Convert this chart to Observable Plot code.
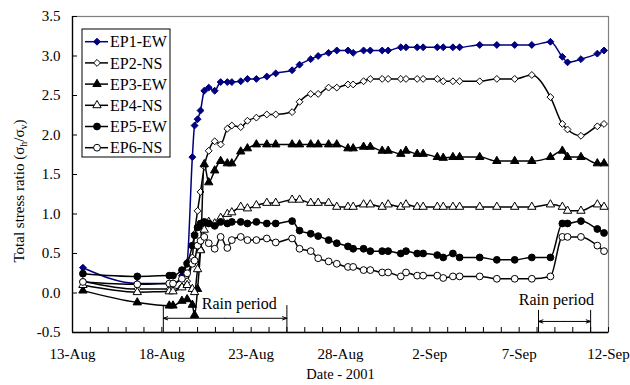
<!DOCTYPE html>
<html><head><meta charset="utf-8">
<script src="https://cdn.jsdelivr.net/npm/d3@7"></script>
<script src="https://cdn.jsdelivr.net/npm/@observablehq/plot@0.6"></script>
<style>body{margin:0;background:#fff;}</style>
</head><body><div id="chart"></div>
<script>
// Measurement times (UTC)
const dates = ["2001-08-13T14:00Z","2001-08-16T15:00Z","2001-08-18T10:00Z","2001-08-18T15:00Z","2001-08-19T03:00Z","2001-08-19T10:00Z","2001-08-19T17:00Z","2001-08-19T20:00Z","2001-08-20T00:00Z","2001-08-20T04:00Z",
"2001-08-20T09:00Z","2001-08-20T15:00Z","2001-08-20T23:00Z","2001-08-21T07:00Z","2001-08-21T16:00Z","2001-08-21T22:00Z","2001-08-22T10:00Z","2001-08-22T19:00Z","2001-08-23T07:00Z","2001-08-23T21:00Z",
"2001-08-24T09:00Z","2001-08-25T07:00Z","2001-08-25T17:00Z","2001-08-26T08:00Z","2001-08-26T18:00Z","2001-08-27T08:00Z","2001-08-27T19:00Z","2001-08-28T10:00Z","2001-08-28T17:00Z","2001-08-29T07:00Z",
"2001-08-29T16:00Z","2001-08-30T08:00Z","2001-08-30T16:00Z","2001-08-31T09:00Z","2001-08-31T16:00Z","2001-09-01T07:00Z","2001-09-01T15:00Z","2001-09-02T10:00Z","2001-09-02T18:00Z","2001-09-03T07:00Z",
"2001-09-03T16:00Z","2001-09-04T19:00Z","2001-09-05T18:00Z","2001-09-06T18:00Z","2001-09-07T17:00Z","2001-09-08T18:00Z","2001-09-09T10:00Z","2001-09-09T17:00Z","2001-09-10T11:00Z","2001-09-11T09:00Z","2001-09-11T18:00Z"];

const ep1 = [0.32,0.12,0.12,0.12,0.22,0.39,1.72,2.12,2.20,2.31, 2.56,2.60,2.56,2.67,2.67,2.67,2.68,2.71,2.71,2.74, 2.78,2.82,2.89,2.96,3.00,3.04,3.07,3.07,3.04,3.07, 3.07,3.07,3.07,3.11,3.11,3.11,3.11,3.11,3.11,3.11, 3.11,3.14,3.14,3.14,3.14,3.18,2.99,2.92,2.96,3.03,3.07];
const ep2 = [0.15,0.05,0.05,0.05,0.08,0.15,0.45,0.75,1.04,1.28, 1.60,1.80,1.92,1.88,2.08,2.12,2.10,2.18,2.22,2.26, 2.26,2.29,2.42,2.52,2.52,2.60,2.60,2.64,2.64,2.68, 2.71,2.71,2.71,2.71,2.71,2.71,2.71,2.71,2.68,2.68, 2.68,2.68,2.71,2.71,2.76,2.48,2.14,2.07,1.99,2.11,2.14];
const ep3 = [0.03,-0.12,-0.16,-0.16,-0.10,-0.08,-0.15,-0.28,0.05,0.55, 1.63,1.40,1.55,1.67,1.64,1.64,1.79,1.83,1.88,1.88, 1.88,1.88,1.88,1.88,1.88,1.88,1.88,1.83,1.83,1.85, 1.85,1.80,1.80,1.76,1.80,1.76,1.76,1.72,1.71,1.72, 1.72,1.72,1.67,1.67,1.67,1.72,1.80,1.72,1.72,1.64,1.64];
const ep4 = [0.10,0.01,0.02,0.02,0.07,0.10,0.05,0.01,0.30,0.54, 0.80,0.90,0.88,0.95,1.00,1.02,1.09,1.07,1.11,1.14, 1.14,1.18,1.18,1.14,1.14,1.14,1.09,1.09,1.09,1.12, 1.12,1.09,1.12,1.09,1.12,1.09,1.09,1.09,1.09,1.09, 1.09,1.09,1.09,1.09,1.09,1.12,1.09,1.04,1.04,1.12,1.09];
const ep5 = [0.245,0.21,0.22,0.22,0.29,0.37,0.60,0.73,0.83,0.88, 0.90,0.88,0.85,0.90,0.88,0.90,0.90,0.88,0.90,0.88, 0.88,0.91,0.79,0.75,0.72,0.67,0.63,0.59,0.56,0.56, 0.53,0.53,0.53,0.50,0.53,0.50,0.50,0.48,0.45,0.50, 0.45,0.45,0.42,0.42,0.45,0.45,0.88,0.88,0.91,0.81,0.76];
const ep6 = [0.14,0.11,0.12,0.12,0.18,0.25,0.37,0.41,0.60,0.66, 0.71,0.63,0.56,0.71,0.57,0.67,0.71,0.67,0.67,0.69, 0.64,0.69,0.56,0.53,0.44,0.40,0.37,0.33,0.33,0.29, 0.29,0.26,0.26,0.21,0.26,0.22,0.22,0.22,0.19,0.21, 0.21,0.21,0.18,0.18,0.18,0.21,0.71,0.71,0.71,0.60,0.53];

const seriesNames = ["EP1-EW","EP2-NS","EP3-EW","EP4-NS","EP5-EW","EP6-NS"];
const seriesValues = [ep1, ep2, ep3, ep4, ep5, ep6];

const tickDates = ["2001-08-13T00:00Z","2001-08-18T00:00Z","2001-08-23T00:00Z","2001-08-28T00:00Z","2001-09-02T00:00Z","2001-09-07T00:00Z","2001-09-12T00:00Z"];
const tickLabels = ["13-Aug","18-Aug","23-Aug","28-Aug","2-Sep","7-Sep","12-Sep"];
const yTicks = [-0.5,0,0.5,1,1.5,2,2.5,3,3.5];

// Rain period annotations
const rainStart = ["2001-08-18T02:00Z","2001-09-08T02:00Z"];
const rainEnd   = ["2001-08-25T00:00Z","2001-09-11T00:00Z"];
const rainBarTop = [-0.16,-0.22];
const rainArrowY = [-0.32,-0.36];
const rainLabelAt = ["2001-08-22T08:00Z","2001-09-09T02:00Z"];
const rainLabelY = [-0.135,-0.082];
const rainText = "Rain period";

// ---- styles ----
const symbols = ["diamond2","diamond2","triangle","triangle","circle","circle"];
const d3symbols = [d3.symbolDiamond2,d3.symbolDiamond2,d3.symbolTriangle,d3.symbolTriangle,d3.symbolCircle,d3.symbolCircle];
const radii = [3.1,3.1,3.1,3.1,3.4,3.4];
const fills = ["#000080","white","black","white","black","white"];
const strokes = ["#000080","black","black","black","black","black"];
const FONT = "Liberation Serif, Times New Roman, serif";

const P = s => new Date(s);
const xDomain = [P(tickDates[0]), P(tickDates[tickDates.length-1])];
const dailyTicks = d3.utcDay.range(xDomain[0], d3.utcDay.offset(xDomain[1], 1));
const labelMap = new Map(tickDates.map((d,i)=>[+P(d), tickLabels[i]]));

const marks = [
  Plot.frame({stroke: "#808080", strokeWidth: 1.2}),
];

seriesNames.forEach((name, i) => {
  const rows = dates.map((d, j) => ({date: P(d), value: seriesValues[i][j]}));
  marks.push(Plot.line(rows, {x: "date", y: "value", stroke: strokes[i], strokeWidth: 1.5, curve: "monotone-x"}));
  marks.push(Plot.dot(rows, {x: "date", y: "value", symbol: symbols[i], r: radii[i], fill: fills[i], stroke: strokes[i], strokeWidth: 1}));
});

const rainBars = [];
rainStart.forEach((s,i)=>{ rainBars.push({x: P(s), top: rainBarTop[i]}); rainBars.push({x: P(rainEnd[i]), top: rainBarTop[i]}); });
const rainArrows = [];
rainStart.forEach((s,i)=>{
  const a = P(s), b = P(rainEnd[i]); const m = new Date((+a + +b)/2);
  rainArrows.push({x1: m, x2: a, y: rainArrowY[i]});
  rainArrows.push({x1: m, x2: b, y: rainArrowY[i]});
});
const rainLabels = rainLabelAt.map((d,i)=>({x: P(d), y: rainLabelY[i]}));

marks.push(
  Plot.ruleX(rainBars, {x: "x", y1: "top", y2: yTicks[0], stroke: "black", strokeWidth: 1}),
  Plot.arrow(rainArrows, {x1: "x1", x2: "x2", y1: "y", y2: "y", stroke: "black", strokeWidth: 1, headLength: 7, headAngle: 40}),
  Plot.text(rainLabels, {x: "x", y: "y", text: () => rainText, fontSize: 16, fill: "black"}),
  // axes lines
  Plot.ruleX([xDomain[0]], {stroke: "black", strokeWidth: 1.3}),
  Plot.ruleY([yTicks[0]], {stroke: "black", strokeWidth: 1.3}),
  // x ticks (inside) and labels
  Plot.axisX(dailyTicks, {tickSize: 5, dy: -5, fill: "none", label: null, stroke: "black"}),
  Plot.axisX(tickDates.map(P), {tickSize: 0, tickPadding: 16, tickFormat: d => labelMap.get(+d), label: null, fontSize: 15, fill: "black"}),
  // y ticks (inside) and labels
  Plot.axisY(yTicks, {tickSize: 5, dx: 5, fill: "none", label: null, stroke: "black"}),
  Plot.axisY(yTicks, {tickSize: 0, tickPadding: 12, tickFormat: d => d.toFixed(1), label: null, fontSize: 15, fill: "black"}),
  Plot.text(["Date - 2001"], {frameAnchor: "bottom", dy: 46, text: d => d, fontSize: 14.5, fill: "black"})
);

const chart = Plot.plot({
  width: 630, height: 385,
  marginLeft: 72, marginRight: 22, marginTop: 16, marginBottom: 53,
  style: {fontFamily: FONT, fontSize: "15px", background: "white", color: "black"},
  x: {type: "utc", domain: xDomain, label: null},
  y: {domain: [yTicks[0], yTicks[yTicks.length-1]], label: null},
  marks
});
document.getElementById("chart").appendChild(chart);

// Legend and y-axis title
const svg = d3.select(chart);
const lg = svg.append("g").attr("font-family", FONT).attr("font-size", 16).attr("text-anchor", "start");
lg.append("rect").attr("x", 82).attr("y", 29).attr("width", 88).attr("height", 128).attr("fill", "white").attr("stroke", "black").attr("stroke-width", 1);
seriesNames.forEach((name, i) => {
  const y = 41.7 + i * 21.2;
  lg.append("line").attr("x1", 85).attr("x2", 108).attr("y1", y).attr("y2", y).attr("stroke", strokes[i]).attr("stroke-width", 1.5);
  lg.append("path").attr("d", d3.symbol(d3symbols[i], Math.PI * radii[i] * radii[i])()).attr("transform", `translate(97,${y})`)
    .attr("fill", fills[i]).attr("stroke", strokes[i]).attr("stroke-width", 1);
  lg.append("text").attr("x", 110).attr("y", y).attr("dy", "0.35em").attr("text-anchor", "start").attr("fill", "black").text(name);
});

const yt = svg.append("text").attr("font-family", FONT).attr("font-size", 15).attr("fill", "black")
  .attr("text-anchor", "middle").attr("transform", "translate(24,191) rotate(-90)");
yt.append("tspan").text("Total stress ratio (σ");
yt.append("tspan").attr("font-size", 10).attr("dy", 3).text("h");
yt.append("tspan").attr("dy", -3).text("/σ");
yt.append("tspan").attr("font-size", 10).attr("dy", 3).text("v");
yt.append("tspan").attr("dy", -3).text(")");
</script>
</body></html>
